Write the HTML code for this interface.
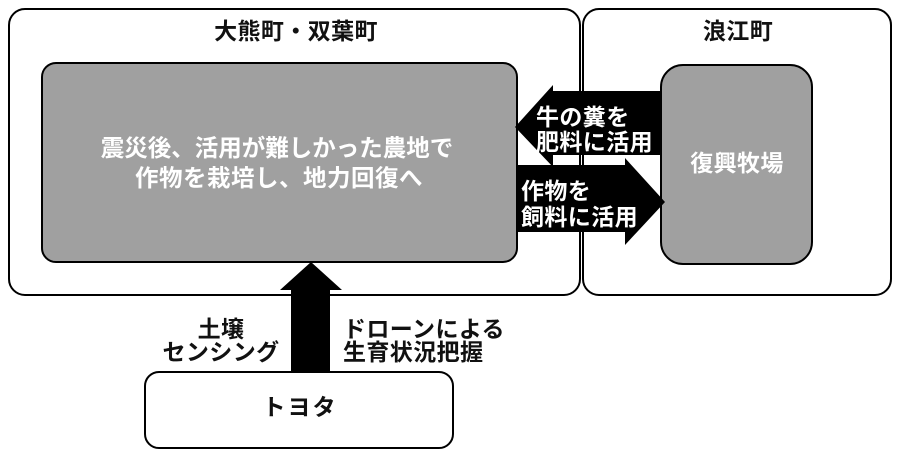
<!DOCTYPE html>
<html><head><meta charset="utf-8"><style>
html,body{margin:0;padding:0;background:#fff;}
svg{display:block;}
text{font-family:"Liberation Sans","Noto Sans CJK JP",sans-serif;font-weight:bold;font-size:23px;letter-spacing:0.4px;dominant-baseline:central;}
.w{fill:#fff;}
.k{fill:#111;}
</style></head><body>
<svg width="900" height="458" viewBox="0 0 900 458" xmlns="http://www.w3.org/2000/svg">
<rect x="0" y="0" width="900" height="458" fill="#fff"/>
<!-- outer boxes -->
<rect x="9" y="9" width="571" height="286" rx="16" fill="#fff" stroke="#000" stroke-width="2"/>
<rect x="583" y="9" width="308" height="286" rx="16" fill="#fff" stroke="#000" stroke-width="2"/>
<!-- grey boxes -->
<rect x="42" y="63" width="475" height="199" rx="14" fill="#a0a0a0" stroke="#000" stroke-width="2"/>
<rect x="661" y="65" width="151" height="199" rx="22" fill="#a0a0a0" stroke="#000" stroke-width="2"/>
<!-- toyota box -->
<rect x="145" y="372" width="308" height="76" rx="14" fill="#fff" stroke="#000" stroke-width="2"/>
<!-- arrows -->
<polygon points="661,91 553,91 553,85 515,127 553,167 553,155 661,155" fill="#000"/>
<polygon points="517,165 625,165 625,158 665,202 625,245 625,232 517,232" fill="#000"/>
<polygon points="291,372 291,290 280,290 311,262 342,290 330,290 330,372" fill="#000"/>
<!-- titles -->
<text class="k" x="296" y="31" text-anchor="middle">大熊町・双葉町</text>
<text class="k" x="738" y="31" text-anchor="middle">浪江町</text>
<!-- grey box text -->
<text class="w" x="277" y="148" text-anchor="middle" style="font-size:23.5px;letter-spacing:0px">震災後、活用が難しかった農地で</text>
<text class="w" x="279" y="178" text-anchor="middle" style="font-size:23.5px;letter-spacing:0.5px">作物を栽培し、地力回復へ</text>
<text class="w" x="737" y="163" text-anchor="middle">復興牧場</text>
<!-- arrow labels -->
<text class="w" x="536" y="117">牛の糞を</text>
<text class="w" x="536" y="142">肥料に活用</text>
<text class="w" x="521" y="191">作物を</text>
<text class="w" x="521" y="217">飼料に活用</text>
<!-- bottom labels -->
<text class="k" x="221" y="329" text-anchor="middle">土壌</text>
<text class="k" x="221" y="352" text-anchor="middle">センシング</text>
<text class="k" x="343" y="329">ドローンによる</text>
<text class="k" x="343" y="352">生育状況把握</text>
<text class="k" x="300" y="407" text-anchor="middle" style="letter-spacing:2px">トヨタ</text>
</svg>
</body></html>
